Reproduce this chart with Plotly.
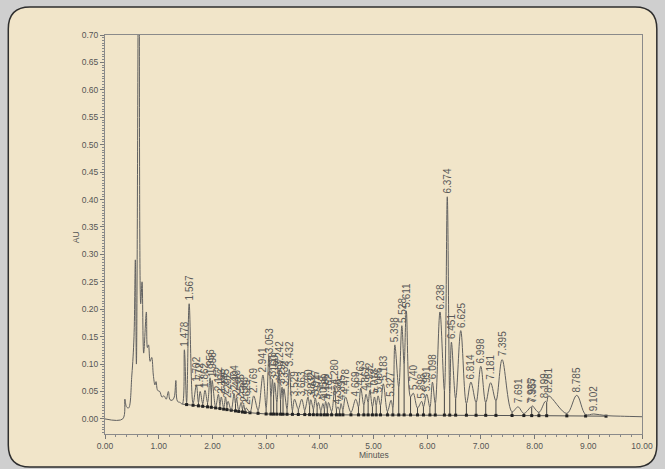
import numpy as np
import plotly.graph_objects as go

# ---- data ----
# early (unlabelled) part of the trace: time (min), absorbance (AU)
early_t = [0.00, 0.33, 0.37, 0.40, 0.44, 0.50, 0.54, 0.565, 0.585, 0.632, 0.665, 0.69, 0.72,
           0.77, 0.79, 0.81, 0.84, 0.87, 0.90, 0.93, 0.95, 0.98, 1.02, 1.06, 1.10, 1.14,
           1.18, 1.21, 1.25, 1.29, 1.32, 1.35, 1.40, 1.44]
early_au = [0.000, 0.000, 0.036, 0.022, 0.020, 0.080, 0.150, 0.290, 0.100, 1.000, 0.210, 0.250, 0.120,
            0.195, 0.130, 0.135, 0.105, 0.112, 0.080, 0.062, 0.068, 0.052, 0.050, 0.040, 0.042, 0.036,
            0.050, 0.035, 0.034, 0.040, 0.070, 0.032, 0.030, 0.027]

# labelled peaks: retention time (min) and apex height (AU)
peak_rt = [1.478, 1.567, 1.702, 1.772, 1.862, 1.956, 1.996, 2.112, 2.166, 2.245, 2.292, 2.404,
           2.448, 2.535, 2.583, 2.629, 2.769, 2.941, 3.053, 3.118, 3.160, 3.242, 3.297, 3.332,
           3.432, 3.529, 3.663, 3.780, 3.832, 3.917, 3.974, 4.058, 4.109, 4.162, 4.280, 4.336,
           4.395, 4.478, 4.669, 4.763, 4.861, 4.932, 5.018, 5.086, 5.183, 5.327, 5.398, 5.528,
           5.611, 5.740, 5.898, 5.991, 6.098, 6.238, 6.374, 6.451, 6.625, 6.814, 6.998, 7.181,
           7.395, 7.691, 7.935, 7.957, 8.199, 8.261, 8.785, 9.102]
peak_au = [0.126, 0.210, 0.062, 0.050, 0.052, 0.075, 0.070, 0.045, 0.040, 0.040, 0.032, 0.046,
           0.038, 0.030, 0.026, 0.020, 0.042, 0.080, 0.115, 0.072, 0.066, 0.090, 0.058, 0.055,
           0.090, 0.036, 0.036, 0.040, 0.035, 0.038, 0.030, 0.028, 0.032, 0.030, 0.058, 0.022,
           0.028, 0.040, 0.036, 0.056, 0.045, 0.052, 0.040, 0.042, 0.064, 0.034, 0.135, 0.170,
           0.197, 0.047, 0.032, 0.045, 0.067, 0.195, 0.405, 0.140, 0.161, 0.067, 0.096, 0.066,
           0.108, 0.022, 0.022, 0.024, 0.032, 0.042, 0.043, 0.009]
peak_labels = [f"{t:.3f}" for t in peak_rt]

# valleys (integration boundaries) between labelled peaks
valley_rt = [1.52, 1.64, 1.74, 1.82, 1.91, 1.98, 2.06, 2.14, 2.21, 2.27, 2.35, 2.43, 2.49, 2.56,
             2.61, 2.70, 2.85, 3.00, 3.09, 3.14, 3.20, 3.27, 3.315, 3.39, 3.49, 3.60, 3.72, 3.81,
             3.88, 3.95, 4.02, 4.085, 4.14, 4.22, 4.31, 4.37, 4.43, 4.58, 4.72, 4.82, 4.90, 4.98,
             5.05, 5.13, 5.26, 5.36, 5.47, 5.57, 5.69, 5.82, 5.93, 6.05, 6.15, 6.32, 6.42, 6.53,
             6.73, 6.91, 7.09, 7.28, 7.58, 7.80, 7.946, 8.08, 8.225, 8.60, 8.95, 9.33]
valley_au = [0.030, 0.028, 0.030, 0.028, 0.030, 0.045, 0.022, 0.025, 0.020, 0.024, 0.016, 0.028,
             0.016, 0.018, 0.014, 0.012, 0.016, 0.020, 0.040, 0.045, 0.030, 0.035, 0.040, 0.018,
             0.016, 0.018, 0.016, 0.024, 0.018, 0.022, 0.015, 0.018, 0.018, 0.014, 0.018, 0.016,
             0.017, 0.012, 0.022, 0.025, 0.030, 0.022, 0.025, 0.025, 0.014, 0.020, 0.058, 0.100,
             0.040, 0.020, 0.022, 0.021, 0.028, 0.052, 0.046, 0.037, 0.028, 0.030, 0.030, 0.033,
             0.013, 0.010, 0.021, 0.012, 0.030, 0.010, 0.008, 0.006]

# tail of the trace
tail_t = [9.60, 10.00]
tail_au = [0.005, 0.004]

# integration baseline
base_t = [1.44, 2.00, 2.60, 3.00, 4.00, 6.00, 8.00, 9.33]
base_au = [0.027, 0.021, 0.012, 0.009, 0.0075, 0.0072, 0.006, 0.005]

x_ticks = [0, 1, 2, 3, 4, 5, 6, 7, 8, 9, 10]

# ---- build trace ----
t_all = np.array(early_t + peak_rt + valley_rt + tail_t)
a_all = np.array(early_au + peak_au + valley_au + tail_au)
order = np.argsort(t_all, kind="stable")
t_all, a_all = t_all[order], a_all[order]

ink = "#606060"
font_fam = "Liberation Sans, Arial"
fig = go.Figure()

# drop lines at the integration boundaries
drop_x, drop_y = [], []
vb = np.interp(valley_rt, base_t, base_au)
for t, a, b in zip(valley_rt, valley_au, vb):
    drop_x += [t, t, None]
    drop_y += [a, b, None]
fig.add_trace(go.Scatter(x=drop_x, y=drop_y, mode="lines",
                         line=dict(color="#444444", width=1), hoverinfo="skip"))

# baseline
fig.add_trace(go.Scatter(x=base_t, y=base_au, mode="lines",
                         line=dict(color="#555555", width=1), hoverinfo="skip"))
fig.add_trace(go.Scatter(x=valley_rt, y=vb, mode="markers",
                         marker=dict(color="#222222", size=3, symbol="square"), hoverinfo="skip"))

# chromatogram
fig.add_trace(go.Scatter(x=t_all, y=a_all, mode="lines",
                         line=dict(color=ink, width=1, shape="spline", smoothing=1.0)))

# peak labels
for t, a, lab in zip(peak_rt, peak_au, peak_labels):
    fig.add_annotation(x=t, y=a, text=lab, textangle=-90, showarrow=False,
                       xanchor="center", yanchor="bottom", yshift=1,
                       font=dict(family=font_fam, size=10, color="#5a5a5a"))

# axis titles
fig.add_annotation(xref="paper", yref="paper", x=-0.0533, y=0.494, text="AU", textangle=-90,
                   xanchor="center", yanchor="middle", showarrow=False,
                   font=dict(family=font_fam, size=8.5, color="#555555"))
fig.add_annotation(xref="paper", yref="paper", x=0.5, y=-0.0526, text="Minutes",
                   xanchor="center", yanchor="middle", showarrow=False,
                   font=dict(family=font_fam, size=8.5, color="#555555"))

# card behind the chart
L, R, T, B = -0.1801, 1.0276, 1.0702, -0.0827
rx, ry = 22 / 544, 22 / 399
path = (f"M {L+rx} {T} L {R-rx} {T} Q {R} {T} {R} {T-ry} L {R} {B+ry} Q {R} {B} {R-rx} {B} "
        f"L {L+rx} {B} Q {L} {B} {L} {B+ry} L {L} {T-ry} Q {L} {T} {L+rx} {T} Z")
fig.add_shape(type="path", path=path, xref="paper", yref="paper", layer="below",
              fillcolor="#F1E5C9", line=dict(color="#2e2e2e", width=1.5))

axis_common = dict(showgrid=False, zeroline=False, showline=True, linecolor="#8a8a8a", linewidth=1,
                   mirror=True, ticks="outside", ticklen=4, tickcolor="#777777",
                   tickfont=dict(family=font_fam, size=8.5, color="#555555"),
                   tickformat=".2f")
fig.update_xaxes(range=[0, 10], tickvals=x_ticks,
                 minor=dict(dtick=0.2, tick0=0, ticks="outside", ticklen=2, tickcolor="#888888"),
                 **axis_common)
fig.update_yaxes(range=[-0.0275, 0.70], dtick=0.05, tick0=0,
                 minor=dict(dtick=0.005, tick0=0, ticks="outside", ticklen=2, tickcolor="#888888"),
                 **axis_common)

fig.update_layout(width=665, height=469, showlegend=False,
                  margin=dict(l=105, r=16, t=35, b=35),
                  paper_bgcolor="#cfcfcf", plot_bgcolor="rgba(0,0,0,0)")
fig.write_html("out.html", config={"displayModeBar": False},
               post_script="document.body.style.margin='0';document.body.style.background='#cfcfcf';")
